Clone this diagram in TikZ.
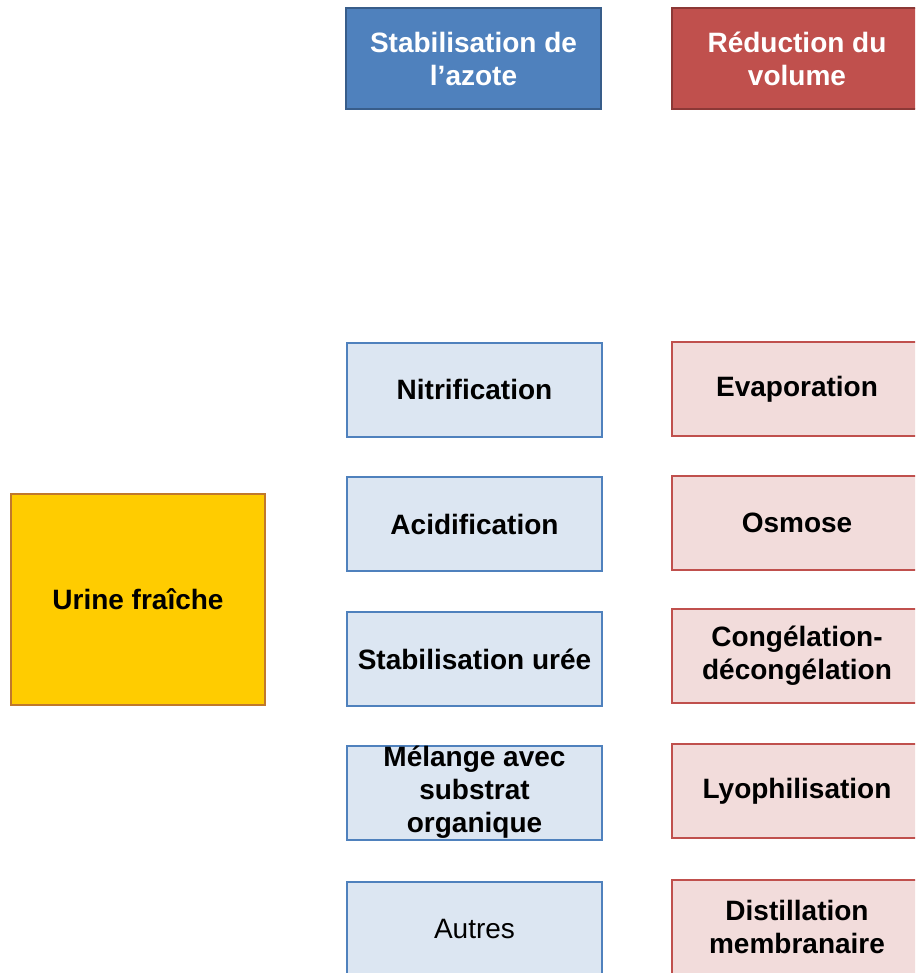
\documentclass[tikz,border=0pt]{standalone}
\usepackage{fontspec}
\setmainfont{Liberation Sans}
\definecolor{hdrblue}{HTML}{4F81BD}
\definecolor{hdrblueline}{HTML}{385D8A}
\definecolor{hdrred}{HTML}{C0504D}
\definecolor{hdrredline}{HTML}{8C3836}
\definecolor{lightblue}{HTML}{DCE6F2}
\definecolor{lightred}{HTML}{F2DCDB}
\definecolor{urineyellow}{HTML}{FFCC00}
\definecolor{urineline}{HTML}{C0782C}
\begin{document}
\begin{tikzpicture}[x=1pt,y=-1pt,
  box/.style={rectangle, inner sep=0pt, align=center, line width=2pt,
    font=\fontsize{28}{33}\selectfont\bfseries},
  header/.style={box, text=white, minimum width=255pt, minimum height=101pt},
  bluehead/.style={header, fill=hdrblue, draw=hdrblueline},
  redhead/.style={header, fill=hdrred, draw=hdrredline, minimum width=250pt},
  stabbox/.style={box, fill=lightblue, draw=hdrblue, minimum width=255pt, minimum height=94pt},
  volbox/.style={box, fill=lightred, draw=hdrred, minimum width=250pt, minimum height=94pt},
  urinebox/.style={box, fill=urineyellow, draw=urineline, minimum width=254pt, minimum height=211pt}]
\useasboundingbox (0,0) rectangle (915,973);
\clip (0,0) rectangle (915,973);
\fill[white] (0,0) rectangle (915,973);

% column headers
\node[bluehead] (hstab) at (473.5,58.5) {Stabilisation de\\l’azote};
\node[redhead]  (hvol)  at (797,58.5) {Réduction du\\volume};

% nitrogen stabilisation methods
\node[stabbox] (nitri) at (474.5,389.5) {Nitrification};
\node[stabbox] (acid)  at (474.5,524) {Acidification};
\node[stabbox] (uree)  at (474.5,659) {Stabilisation urée};
\node[stabbox] (melange) at (474.5,792.5) {Mélange avec\\substrat\\organique};
\node[stabbox, font=\fontsize{28}{33}\selectfont\mdseries] (autres) at (474.5,929) {Autres};

% volume reduction methods
\node[volbox] (evap)   at (797,389) {Evaporation};
\node[volbox] (osmose) at (797,523) {Osmose};
\node[volbox] (congel) at (797,656) {Congélation-\\décongélation};
\node[volbox] (lyo)    at (797,791) {Lyophilisation};
\node[volbox] (distil) at (797,927) {Distillation\\membranaire};

% source
\node[urinebox] (urine) at (138,599.5) {Urine fraîche};
\end{tikzpicture}
\end{document}
